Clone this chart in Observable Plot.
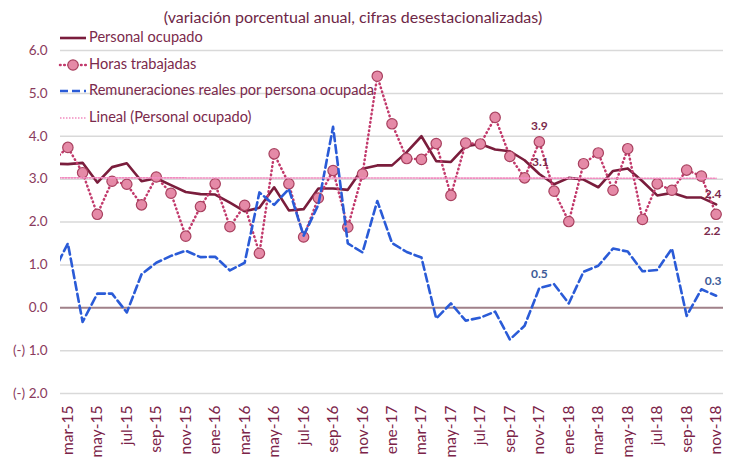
<!DOCTYPE html>
<html>
<head>
<meta charset="utf-8">
<script src="https://cdn.jsdelivr.net/npm/d3@7"></script>
<script src="https://cdn.jsdelivr.net/npm/@observablehq/plot@0.6"></script>
<style>
  html, body { margin: 0; padding: 0; background: #fff; }
  #chart { width: 732px; height: 464px; }
</style>
</head>
<body>
<div id="chart"></div>
<script>
// ---- Data ----
const meses = ["feb-15","mar-15","abr-15","may-15","jun-15","jul-15","ago-15","sep-15","oct-15","nov-15","dic-15",
  "ene-16","feb-16","mar-16","abr-16","may-16","jun-16","jul-16","ago-16","sep-16","oct-16","nov-16","dic-16",
  "ene-17","feb-17","mar-17","abr-17","may-17","jun-17","jul-17","ago-17","sep-17","oct-17","nov-17","dic-17",
  "ene-18","feb-18","mar-18","abr-18","may-18","jun-18","jul-18","ago-18","sep-18","oct-18","nov-18"];

const personalOcupado = [3.36, 3.35,3.38,2.92,3.28,3.37,2.95,3.02,2.86,2.70,2.65,
  2.64,2.45,2.25,2.33,2.81,2.27,2.30,2.78,2.78,2.75,3.24,3.32,
  3.32,3.63,4.00,3.42,3.40,3.77,3.82,3.69,3.65,3.44,3.12,2.88,
  3.03,2.99,2.81,3.19,3.25,2.95,2.62,2.68,2.57,2.57,2.41];

const horasTrabajadas = [3.43, 3.74,3.15,2.18,2.95,2.88,2.40,3.05,2.67,1.67,2.36,
  2.89,1.89,2.39,1.27,3.59,2.89,1.65,2.56,3.20,1.88,3.12,5.40,
  4.29,3.48,3.46,3.83,2.62,3.84,3.82,4.44,3.53,3.03,3.87,2.72,
  2.01,3.36,3.61,2.74,3.71,2.06,2.89,2.74,3.21,3.07,2.18];

const remuneraciones = [0.82, 1.50,-0.33,0.33,0.33,-0.11,0.78,1.05,1.21,1.33,1.18,
  1.19,0.87,1.05,2.69,2.40,2.77,1.68,2.40,4.22,1.50,1.29,2.49,
  1.51,1.30,1.17,-0.25,0.10,-0.30,-0.23,-0.09,-0.74,-0.42,0.46,0.55,
  0.10,0.84,0.98,1.38,1.31,0.85,0.88,1.38,-0.19,0.43,0.28];

// Linear trend of "Personal ocupado" as drawn (start / end values)
const tendenciaMeses = ["feb-15", "nov-18"];
const tendenciaValores = [3.03, 3.02];

const yTicks = [-2, -1, 0, 1, 2, 3, 4, 5, 6];
const xTickMeses = meses.filter((m, i) => i % 2 === 1); // mar-15, may-15, ...

const titulo = "(variación porcentual anual, cifras desestacionalizadas)";
const series = ["Personal ocupado", "Horas trabajadas", "Remuneraciones reales por persona ocupada", "Lineal (Personal ocupado)"];

// ---- Build table ----
const idx = m => meses.indexOf(m) - 1; // mar-15 -> 0
const rows = meses.map((m, i) => ({
  mes: m, t: i - 1,
  personal: personalOcupado[i], horas: horasTrabajadas[i], remun: remuneraciones[i]
}));
const tendencia = tendenciaMeses.map((m, i) => ({t: idx(m), v: tendenciaValores[i]}));
const at = m => rows.filter(d => d.mes === m);

const C = {
  personal: "#7a1d3c",
  horasLine: "#c23a6c",
  horasFill: "#e58aa7",
  horasStroke: "#a8415f",
  remun: "#2a5bd7",
  lineal: "#f28cc0",
  text: "#7b2a4c",
  axis: "#8a3a5c",
  grid: "#d9d9d9",
  zero: "#a08189"
};
const FONT = "Lato, 'Open Sans', sans-serif";
const fmtY = v => v < 0 ? "(-) " + Math.abs(v).toFixed(1) : v.toFixed(1);
const lbl = k => d => d[k].toFixed(1);
const horasDash = {strokeDasharray: "0.6,3.6", strokeLinecap: "round", strokeWidth: 2.5};

const chart = Plot.plot({
  width: 732,
  height: 464,
  marginTop: 50,
  marginBottom: 71,
  marginLeft: 60,
  marginRight: 9,
  style: {fontFamily: FONT, fontSize: "13.5px", color: C.axis, background: "#fff", overflow: "visible"},
  x: {type: "linear", domain: [-0.5, 44.5], label: null},
  y: {domain: [-2, 6], label: null},
  marks: [
    Plot.ruleY(yTicks.filter(v => v !== 0), {stroke: C.grid, strokeWidth: 1.5}),
    Plot.ruleY([0], {stroke: C.zero, strokeWidth: 1.8}),
    Plot.axisX({
      ticks: xTickMeses.map(idx), tickFormat: t => meses[t + 1],
      tickRotate: -90, tickSize: 0, tickPadding: 12, fontSize: 15.5, fill: "#7b2348", label: null
    }),
    Plot.axisY({ticks: yTicks, tickFormat: fmtY, tickSize: 0, tickPadding: 13, fontSize: 13.5, fill: C.axis, label: null}),
    Plot.line(rows, {x: "t", y: "personal", stroke: C.personal, strokeWidth: 2.6, clip: true}),
    Plot.line(rows, {x: "t", y: "horas", stroke: C.horasLine, ...horasDash, clip: true}),
    Plot.dot(rows, {x: "t", y: "horas", r: 5.2, fill: C.horasFill, stroke: C.horasStroke, strokeWidth: 1.2, clip: true}),
    Plot.line(rows, {x: "t", y: "remun", stroke: C.remun, strokeWidth: 2.6, strokeDasharray: "8,4", clip: true}),
    Plot.line(tendencia, {x: "t", y: "v", stroke: C.lineal, strokeWidth: 1.6, strokeDasharray: "1.5,1.5", clip: true}),
    // data labels
    Plot.text(at("nov-17"), {x: "t", y: "horas", text: lbl("horas"), dy: -16, fill: C.text, fontWeight: "bold", fontSize: 12}),
    Plot.text(at("nov-17"), {x: "t", y: "personal", text: lbl("personal"), dy: -12, dx: 1, fill: C.text, fontWeight: "bold", fontSize: 12}),
    Plot.text(at("nov-17"), {x: "t", y: "remun", text: lbl("remun"), dy: -14, fill: "#3d5b98", fontWeight: "bold", fontSize: 12}),
    Plot.text(at("nov-18"), {x: "t", y: "personal", text: lbl("personal"), dy: -10, dx: -3, fill: C.text, fontWeight: "bold", fontSize: 12}),
    Plot.text(at("nov-18"), {x: "t", y: "horas", text: lbl("horas"), dy: 17, dx: -4, fill: C.text, fontWeight: "bold", fontSize: 12}),
    Plot.text(at("nov-18"), {x: "t", y: "remun", text: lbl("remun"), dy: -15, dx: -3, fill: "#3d5b98", fontWeight: "bold", fontSize: 12})
  ]
});

document.getElementById("chart").appendChild(chart);

// ---- Title and legend (drawn in the same SVG) ----
const svg = d3.select(chart);
svg.append("text")
  .attr("x", 353).attr("y", 19)
  .attr("text-anchor", "middle").attr("dominant-baseline", "middle")
  .style("font-family", FONT).style("font-size", "16px")
  .attr("fill", "#6e2746")
  .text(titulo);

const legY = [38, 65, 91, 118];
const lg = svg.append("g").style("font-family", FONT).style("font-size", "14.6px").attr("text-anchor", "start");
series.forEach((s, i) => {
  const y = legY[i];
  const line = lg.append("line").attr("x1", 60).attr("x2", 86).attr("y1", y).attr("y2", y);
  if (i === 0) line.attr("stroke", C.personal).attr("stroke-width", 2.6);
  if (i === 1) {
    line.attr("stroke", C.horasLine).attr("stroke-width", 2.5).attr("stroke-dasharray", "0.6,3.6").attr("stroke-linecap", "round");
    lg.append("circle").attr("cx", 73).attr("cy", y).attr("r", 5.2).attr("fill", C.horasFill).attr("stroke", C.horasStroke).attr("stroke-width", 1.2);
  }
  if (i === 2) line.attr("stroke", C.remun).attr("stroke-width", 2.6).attr("stroke-dasharray", "8,4");
  if (i === 3) line.attr("stroke", C.lineal).attr("stroke-width", 1.5).attr("stroke-dasharray", "1.5,1.5");
  lg.append("text").attr("x", 89).attr("y", y).attr("dominant-baseline", "middle")
    .attr("text-anchor", "start").attr("fill", C.text).text(s);
});
</script>
</body>
</html>
